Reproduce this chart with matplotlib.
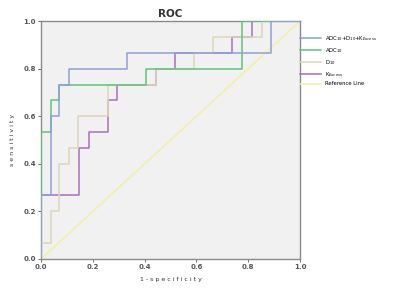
import matplotlib
matplotlib.use("Agg")
from matplotlib import pyplot as plt

# ROC step points (1-specificity, sensitivity)
comb_x = [0.0, 0.0, 0.037, 0.037, 0.07, 0.07, 0.108, 0.108, 0.333, 0.333, 0.888, 0.888, 1.0]
comb_y = [0.0, 0.267, 0.267, 0.6, 0.6, 0.733, 0.733, 0.8, 0.8, 0.867, 0.867, 1.0, 1.0]

adc_x = [0.0, 0.0, 0.037, 0.037, 0.07, 0.07, 0.405, 0.405, 0.777, 0.777, 1.0]
adc_y = [0.0, 0.533, 0.533, 0.667, 0.667, 0.733, 0.733, 0.8, 0.8, 1.0, 1.0]

d_x = [0.0, 0.0, 0.037, 0.037, 0.07, 0.07, 0.108, 0.108, 0.143, 0.143, 0.259, 0.259,
       0.444, 0.444, 0.592, 0.592, 0.665, 0.665, 0.853, 0.853, 1.0]
d_y = [0.0, 0.067, 0.067, 0.2, 0.2, 0.4, 0.4, 0.467, 0.467, 0.6, 0.6, 0.733,
       0.733, 0.8, 0.8, 0.867, 0.867, 0.933, 0.933, 1.0, 1.0]

k_x = [0.0, 0.0, 0.147, 0.147, 0.185, 0.185, 0.259, 0.259, 0.295, 0.295, 0.444, 0.444,
       0.517, 0.517, 0.737, 0.737, 0.815, 0.815, 1.0]
k_y = [0.0, 0.267, 0.267, 0.467, 0.467, 0.533, 0.533, 0.667, 0.667, 0.733, 0.733, 0.8,
       0.8, 0.867, 0.867, 0.933, 0.933, 1.0, 1.0]

ref_x = [0.0, 1.0]
ref_y = [0.0, 1.0]

labels = ["ADC$_{10}$+D$_{10}$+K$_{Excess}$", "ADC$_{10}$", "D$_{10}$",
          "K$_{Excess}$", "Reference Line"]
colors = ["#8da0d6", "#5cc47e", "#ddd8b8", "#ad6cc0", "#f4f0a0"]

fig = plt.figure(figsize=(4.0, 3.06), dpi=100)
ax = fig.add_axes([0.1025, 0.1536, 0.6475, 0.7774])
ax.set_facecolor("#f1f1f1")

series = [(comb_x, comb_y), (adc_x, adc_y), (d_x, d_y), (k_x, k_y), (ref_x, ref_y)]
order = [4, 2, 3, 1, 0]
for i in order:
    xs, ys = series[i]
    ax.plot(xs, ys, color=colors[i], lw=1.1, label=labels[i], zorder=2 + (4 - i))

ax.set_xlim(0, 1)
ax.set_ylim(0, 1)
ticks = [0.0, 0.2, 0.4, 0.6, 0.8, 1.0]
ax.set_xticks(ticks)
ax.set_yticks(ticks)
ax.set_xticklabels(["%.1f" % t for t in ticks], fontweight="bold")
ax.set_yticklabels(["%.1f" % t for t in ticks], fontweight="bold")
ax.tick_params(labelsize=5, length=2, width=0.6, colors="#555555", pad=1.5)
for s in ax.spines.values():
    s.set_color("#8a8a8a")
    s.set_linewidth(1.0)

ax.set_title("ROC", fontsize=7.5, fontweight="bold", color="#333333", pad=3)
ax.set_xlabel("1 - s p e c i f i c i t y", fontsize=4.5, color="#333333", labelpad=5)
ax.set_ylabel("s e n s i t i v i t y", fontsize=4.5, color="#333333", labelpad=6)

handles, labs = ax.get_legend_handles_labels()
hmap = dict(zip(labs, handles))
leg = fig.legend([hmap[l] for l in labels], labels, loc="upper left",
                 bbox_to_anchor=(0.745, 0.895), fontsize=3.8, frameon=False,
                 handlelength=4.0, handletextpad=0.8, labelspacing=0.55,
                 borderaxespad=0)

fig.savefig("out.png", dpi=100)
